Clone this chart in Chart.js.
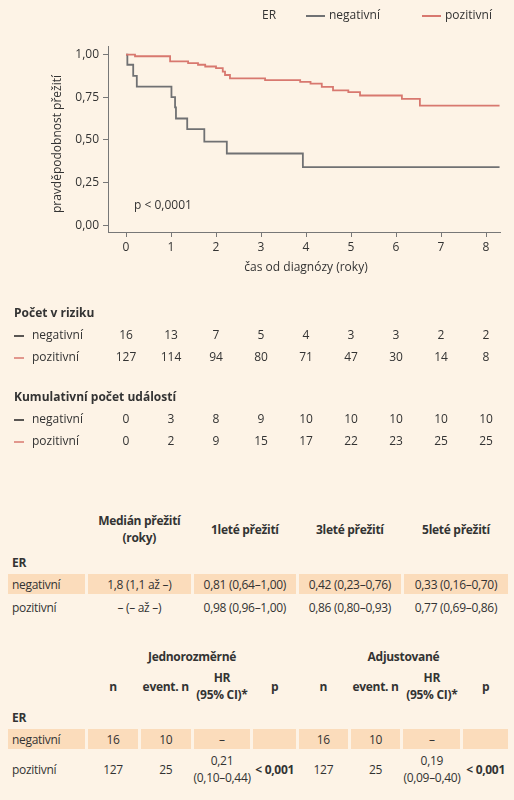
<!DOCTYPE html>
<html><head><meta charset="utf-8">
<script src="https://cdn.jsdelivr.net/npm/chart.js@4"></script>
<style>
body{margin:0;background:#fdf3e6;font-family:"Open Sans",sans-serif;color:#333;width:514px;height:800px;overflow:hidden;position:relative}
#wrap{position:absolute;left:0;top:0;width:514px;height:460px}
table{position:absolute;left:5px;border-collapse:separate;border-spacing:3px 0;font-size:12px;letter-spacing:-0.3px;table-layout:fixed}
td{text-align:center;padding:0;height:20px;white-space:nowrap}
td.l{text-align:left;padding-left:4px}
th{font-weight:bold;font-size:12px;padding:0;white-space:nowrap}
.h td{background:#fbdcbb}
b{font-weight:bold}
</style></head><body>
<div id="wrap"><canvas id="c" width="514" height="460"></canvas></div>

<table id="t1" style="top:508px;width:506px">
<colgroup><col style="width:76px"><col style="width:102px"><col style="width:101px"><col style="width:101px"><col style="width:103px"></colgroup>
<tr style="height:42px"><td></td><th>Medián přežití<br>(roky)</th><th>1leté přežití</th><th>3leté přežití</th><th>5leté přežití</th></tr>
<tr style="height:24px"><td class="l"><b>ER</b></td><td colspan="4"></td></tr>
<tr class="h"><td class="l">negativní</td><td>1,8 (1,1 až –)</td><td>0,81 (0,64–1,00)</td><td>0,42 (0,23–0,76)</td><td>0,33 (0,16–0,70)</td></tr>
<tr style="height:26px"><td class="l">pozitivní</td><td>– (– až –)</td><td>0,98 (0,96–1,00)</td><td>0,86 (0,80–0,93)</td><td>0,77 (0,69–0,86)</td></tr>
</table>

<table id="t2" style="top:645px;width:506px">
<colgroup><col style="width:76px"><col style="width:49px"><col style="width:49px"><col style="width:56px"><col style="width:42px"><col style="width:48px"><col style="width:49px"><col style="width:56px"><col style="width:44px"></colgroup>
<tr style="height:22px"><td></td><th colspan="4">Jednorozměrné</th><th colspan="4">Adjustované</th></tr>
<tr style="height:38px"><td></td><th>n</th><th>event. n</th><th>HR<br>(95% CI)*</th><th>p</th><th>n</th><th>event. n</th><th>HR<br>(95% CI)*</th><th>p</th></tr>
<tr style="height:24px"><td class="l"><b>ER</b></td><td colspan="8"></td></tr>
<tr class="h"><td class="l">negativní</td><td>16</td><td>10</td><td>–</td><td></td><td>16</td><td>10</td><td>–</td><td></td></tr>
<tr style="height:40px"><td class="l">pozitivní</td><td>127</td><td>25</td><td>0,21<br>(0,10–0,44)</td><td><b>&lt; 0,001</b></td><td>127</td><td>25</td><td>0,19<br>(0,09–0,40)</td><td><b>&lt; 0,001</b></td></tr>
</table>

<script>
const seriesNames = ['negativní', 'pozitivní'];
const seriesColors = ['#707173', '#d8786f'];
// step changes: [time, survival]
const negSteps = [[0,1],[0.03,0.94],[0.16,0.875],[0.24,0.8125],[1.01,0.75],[1.09,0.69],[1.11,0.625],[1.36,0.5625],[1.74,0.49],[2.24,0.42],[3.93,0.34],[8.3,0.34]];
const posSteps = [[0,1],[0.2,0.99],[0.98,0.96],[1.38,0.95],[1.6,0.94],[1.76,0.93],[2.0,0.92],[2.15,0.90],[2.2,0.88],[2.31,0.86],[3.09,0.85],[3.87,0.84],[4.1,0.83],[4.35,0.81],[4.6,0.79],[4.94,0.78],[5.2,0.76],[6.13,0.74],[6.53,0.70],[8.3,0.70]];
const xTicks = [0,1,2,3,4,5,6,7,8];
const yTicks = [0,0.25,0.5,0.75,1];
const atRiskNeg = [16,13,7,5,4,3,3,2,2];
const atRiskPos = [127,114,94,80,71,47,30,14,8];
const eventsNeg = [0,3,8,9,10,10,10,10,10];
const eventsPos = [0,2,9,15,17,22,23,25,25];

const font = '"Open Sans", sans-serif';
const fmt = v => v.toFixed(2).replace('.', ',');

const extras = {
  id: 'extras',
  afterDraw(chart) {
    const ctx = chart.ctx, xs = chart.scales.x, a = chart.chartArea;
    ctx.save();
    ctx.fillStyle = '#333';
    ctx.font = '12px ' + font;
    // legend
    ctx.textBaseline = 'middle';
    ctx.textAlign = 'left';
    ctx.fillText('ER', 262, 16);
    [[306, 0], [422, 1]].forEach(([x, i]) => {
      ctx.strokeStyle = seriesColors[i]; ctx.lineWidth = 2;
      ctx.beginPath(); ctx.moveTo(x, 16); ctx.lineTo(x + 19, 16); ctx.stroke();
      ctx.fillText(seriesNames[i], x + 23, 16);
    });
    // p-value
    ctx.fillText('p < 0,0001', 134, 206);
    // axis titles
    ctx.textAlign = 'center';
    ctx.fillText('čas od diagnózy (roky)', xs.getPixelForValue(4), 268);
    ctx.save();
    ctx.translate(58, (a.top + a.bottom) / 2 + 5);
    ctx.rotate(-Math.PI / 2);
    ctx.fillText('pravděpodobnost přežití', 0, 0);
    ctx.restore();
    // risk tables
    const block = (title, y, rows) => {
      ctx.textAlign = 'left';
      ctx.font = 'bold 12px ' + font;
      ctx.fillStyle = '#333';
      ctx.fillText(title, 14, y);
      rows.forEach((vals, r) => {
        const yy = y + 22 * (r + 1);
        ctx.strokeStyle = r ? seriesColors[1] : '#222';
        ctx.lineWidth = 1.5;
        ctx.beginPath(); ctx.moveTo(14, yy); ctx.lineTo(24, yy); ctx.stroke();
        ctx.font = '12px ' + font;
        ctx.textAlign = 'left';
        ctx.fillText(seriesNames[r], 32, yy);
        ctx.textAlign = 'center';
        vals.forEach((v, k) => ctx.fillText(String(v), xs.getPixelForValue(xTicks[k]), yy));
      });
    };
    block('Počet v riziku', 314, [atRiskNeg, atRiskPos]);
    block('Kumulativní počet událostí', 398, [eventsNeg, eventsPos]);
    ctx.restore();
  }
};

new Chart(document.getElementById('c'), {
  type: 'line',
  data: {
    datasets: [negSteps, posSteps].map((s, i) => ({
      label: seriesNames[i],
      data: s.map(p => ({ x: p[0], y: p[1] })),
      stepped: 'before',
      borderColor: seriesColors[i],
      borderWidth: 1.8,
      pointRadius: 0,
      fill: false
    })).reverse()
  },
  options: {
    responsive: false,
    animation: false,
    layout: { padding: { top: 46, right: 14, left: 0, bottom: 0 } },
    plugins: { legend: { display: false }, tooltip: { enabled: false } },
    scales: {
      x: {
        type: 'linear', min: -0.4, max: 8.31,
        afterBuildTicks: s => { s.ticks = xTicks.map(v => ({ value: v })); },
        afterFit: s => { s.height = 228; },
        grid: { drawOnChartArea: false, tickLength: 5, color: '#777' },
        border: { color: '#777', width: 1 },
        ticks: { color: '#333', font: { family: font, size: 12 }, padding: 3 }
      },
      y: {
        min: -0.04, max: 1.05,
        afterBuildTicks: s => { s.ticks = yTicks.map(v => ({ value: v })); },
        afterFit: s => { s.width = 108; },
        grid: { drawOnChartArea: false, tickLength: 5, color: '#777' },
        border: { color: '#777', width: 1 },
        ticks: { color: '#333', font: { family: font, size: 12 }, padding: 4, callback: v => fmt(v) }
      }
    }
  },
  plugins: [extras]
});
</script>
</body></html>
